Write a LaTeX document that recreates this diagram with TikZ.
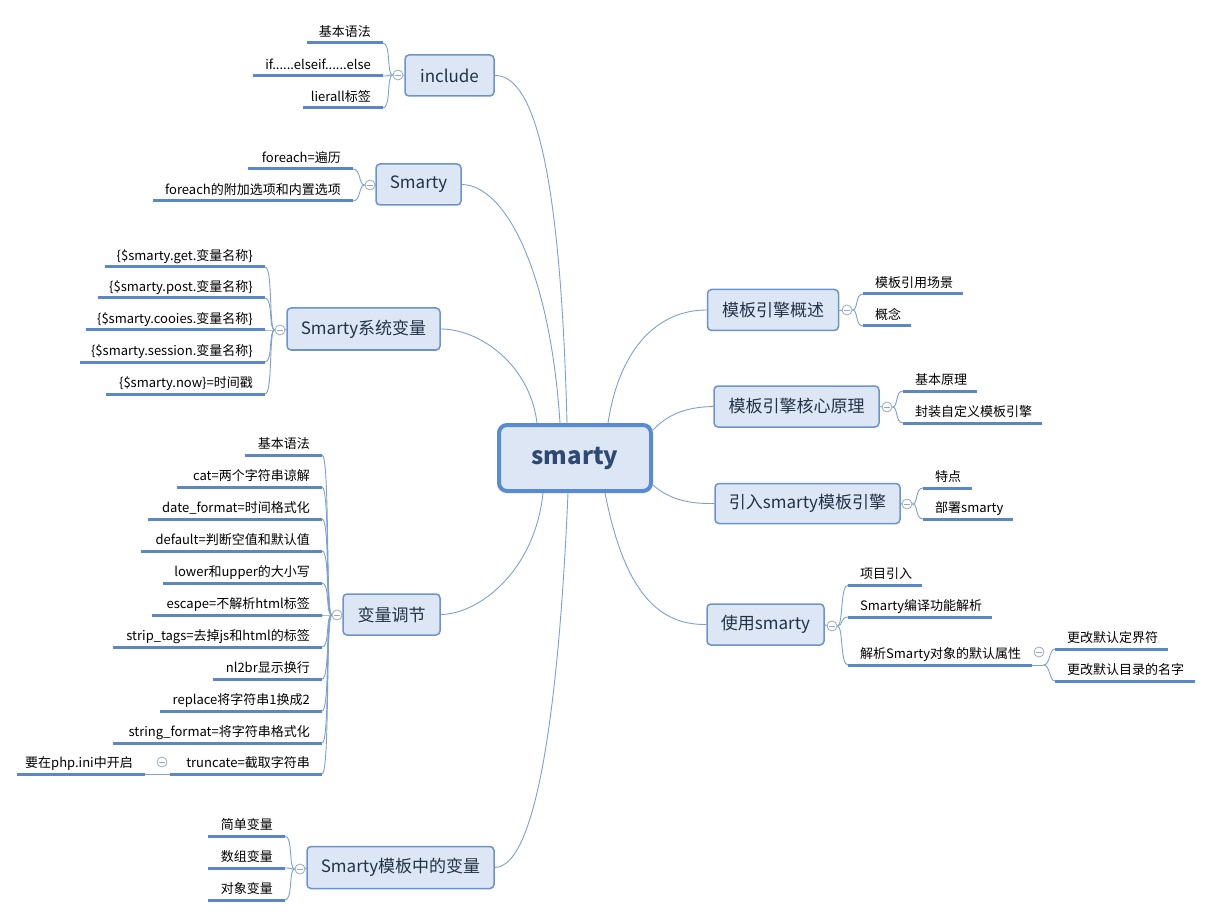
\documentclass[tikz,border=0pt]{standalone}
\usepackage{fontspec}
\setmainfont{Noto Sans CJK SC}
\usetikzlibrary{calc}
\definecolor{ubl}{HTML}{5B87C9}
\definecolor{cbl}{HTML}{7C9FD4}
\definecolor{bfill}{HTML}{DCE6F4}
\definecolor{bdraw}{HTML}{6B93CE}
\definecolor{cdraw}{HTML}{5A8AD2}
\definecolor{ctext}{HTML}{2E4A72}
\definecolor{mtext}{HTML}{233247}
\definecolor{circcol}{HTML}{96A8C6}
\tikzset{
  leaf/.style={inner xsep=12pt, inner ysep=3pt, text height=10pt, text depth=3.5pt,
    font=\fontsize{13}{15}\selectfont, text=black},
  uline/.style={draw=ubl, line width=3pt},
  conn/.style={draw=cbl, line width=0.9pt},
  mainbox/.style={draw=bdraw, line width=1.5pt, fill=bfill, rounded corners=4pt,
    inner sep=0pt, font=\fontsize{17}{20}\selectfont, text=mtext},
  centerbox/.style={draw=cdraw, line width=4pt, fill=bfill, rounded corners=8pt,
    inner sep=0pt, font=\fontsize{24}{28}\selectfont\bfseries, text=ctext,
    minimum width=152pt, minimum height=66pt},
  fold/.style={circle, draw=circcol, line width=0.8pt, fill=white, minimum size=10pt, inner sep=0pt,
    path picture={\draw[circcol, line width=0.8pt]
      ([xshift=-2.8pt]path picture bounding box.center) -- ([xshift=2.8pt]path picture bounding box.center);}}
}
\newcommand\lfL[5]{%
  \pgfmathsetmacro\lfw{#2-#4-24}%
  \node[leaf, anchor=south east] (#1) at (#2,#3) {\makebox[\lfw pt][r]{#5}};
  \draw[uline] (#1.south west) -- (#1.south east);}
\newcommand\lfR[5]{%
  \pgfmathsetmacro\lfw{#4-#2-24}%
  \node[leaf, anchor=south west] (#1) at (#2,#3) {\makebox[\lfw pt][l]{#5}};
  \draw[uline] (#1.south west) -- (#1.south east);}
\newcommand\brL[2]{\draw[conn] (#2.south east) .. controls +(8,0) and +(-6,0) .. (#1.west);}
\newcommand\brR[2]{\draw[conn] (#1.east) .. controls +(6,0) and +(-8,0) .. (#2.south west);}
\begin{document}
\begin{tikzpicture}[x=1pt, y=-1pt]
\useasboundingbox (0,0) rectangle (1213,917);

% center
\node[centerbox] (c) at (575,458) {smarty};

% main nodes
\node[mainbox, minimum width=89pt, minimum height=41pt] (inc) at (449.5,75.5) {include};
\node[mainbox, minimum width=85pt, minimum height=41pt] (sm) at (418.5,184.5) {Smarty};
\node[mainbox, minimum width=153pt, minimum height=42pt] (sv) at (363.5,329) {Smarty系统变量};
\node[mainbox, minimum width=97pt, minimum height=41pt] (bt) at (391.5,614.5) {变量调节};
\node[mainbox, minimum width=187pt, minimum height=42pt] (mv) at (400.5,867.5) {Smarty模板中的变量};
\node[mainbox, minimum width=131pt, minimum height=41pt] (gs) at (773,310) {模板引擎概述};
\node[mainbox, minimum width=165pt, minimum height=41pt] (hx) at (796.5,406.5) {模板引擎核心原理};
\node[mainbox, minimum width=185pt, minimum height=40pt] (yr) at (807.5,503.5) {引入smarty模板引擎};
\node[mainbox, minimum width=117pt, minimum height=41pt] (us) at (765.5,624.5) {使用smarty};

% center connectors
\draw[conn] ([xshift=-8pt]c.north) .. controls (560,150) and (530,75) .. (inc.east);
\draw[conn] ([xshift=-15pt]c.north) .. controls (550,270) and (505,185) .. (sm.east);
\draw[conn] ([xshift=-38pt]c.north) .. controls (530,365) and (480,329) .. (sv.east);
\draw[conn] ([xshift=-32pt]c.south) .. controls (535,570) and (480,614) .. (bt.east);
\draw[conn] ([xshift=-7pt]c.south) .. controls (560,680) and (540,867) .. (mv.east);
\draw[conn] ([xshift=33pt]c.north) .. controls (620,345) and (660,310) .. (gs.west);
\draw[conn] ([yshift=28pt]c.east) .. controls (670,412) and (690,407) .. (hx.west);
\draw[conn] ([yshift=-27pt]c.east) .. controls (670,500) and (690,504) .. (yr.west);
\draw[conn] ([xshift=30pt]c.south) .. controls (625,595) and (660,625) .. (us.west);

% fold circles
\node[fold] (ic) at (398,75) {};
\node[fold] (sc) at (370,185) {};
\node[fold] (vc) at (280,330) {};
\node[fold] (bc) at (337,615) {};
\node[fold] (mc) at (300,869) {};
\node[fold] (gc) at (847,310) {};
\node[fold] (hc) at (887,407) {};
\node[fold] (yc) at (907,504) {};
\node[fold] (uc) at (832,626) {};
\draw[conn] (ic.east) -- (inc.west);
\draw[conn] (sc.east) -- (sm.west);
\draw[conn] (vc.east) -- (sv.west);
\draw[conn] (bc.east) -- (bt.west);
\draw[conn] (mc.east) -- (mv.west);
\draw[conn] (gs.east) -- (gc.west);
\draw[conn] (hx.east) -- (hc.west);
\draw[conn] (yr.east) -- (yc.west);
\draw[conn] (us.east) -- (uc.west);

% include
\lfL{i1}{383}{43}{307}{基本语法}
\lfL{i2}{383}{76}{253}{if......elseif......else}
\lfL{i3}{383}{108}{303}{lierall标签}
\brL{ic}{i1}\brL{ic}{i2}\brL{ic}{i3}

% Smarty
\lfL{s1}{353}{169}{248}{foreach=遍历}
\lfL{s2}{353}{201}{153}{foreach的附加选项和内置选项}
\brL{sc}{s1}\brL{sc}{s2}

% system vars
\lfL{v1}{265}{267}{105}{\{\$smarty.get.变量名称\}}
\lfL{v2}{265}{298}{98}{\{\$smarty.post.变量名称\}}
\lfL{v3}{265}{330}{86}{\{\$smarty.cooies.变量名称\}}
\lfL{v4}{265}{362}{80}{\{\$smarty.session.变量名称\}}
\lfL{v5}{265}{394}{106}{\{\$smarty.now\}=时间戳}
\brL{vc}{v1}\brL{vc}{v2}\brL{vc}{v3}\brL{vc}{v4}\brL{vc}{v5}

% modifiers
\lfL{t1}{322}{455}{245}{基本语法}
\lfL{t2}{322}{487}{177}{cat=两个字符串谅解}
\lfL{t3}{322}{519}{148}{date\_format=时间格式化}
\lfL{t4}{322}{551}{141}{default=判断空值和默认值}
\lfL{t5}{322}{583}{163}{lower和upper的大小写}
\lfL{t6}{322}{615}{152}{escape=不解析html标签}
\lfL{t7}{322}{647}{113}{strip\_tags=去掉js和html的标签}
\lfL{t8}{322}{679}{213}{nl2br显示换行}
\lfL{t9}{322}{711}{160}{replace将字符串1换成2}
\lfL{t10}{322}{743}{113}{string\_format=将字符串格式化}
\lfL{t11}{322}{774}{170}{truncate=截取字符串}
\brL{bc}{t1}\brL{bc}{t2}\brL{bc}{t3}\brL{bc}{t4}\brL{bc}{t5}\brL{bc}{t6}
\brL{bc}{t7}\brL{bc}{t8}\brL{bc}{t9}\brL{bc}{t10}\brL{bc}{t11}
\lfL{php}{145}{774}{17}{要在php.ini中开启}
\draw[conn] (t11.south west) -- (php.south east);
\node[fold] (tc) at (162,762) {};

% template vars
\lfL{m1}{285}{836}{208}{简单变量}
\lfL{m2}{285}{868}{208}{数组变量}
\lfL{m3}{285}{900}{208}{对象变量}
\brL{mc}{m1}\brL{mc}{m2}\brL{mc}{m3}

% right side
\lfR{g1}{863}{294}{963}{模板引用场景}
\lfR{g2}{863}{326}{911}{概念}
\brR{gc}{g1}\brR{gc}{g2}

\lfR{h1}{903}{391}{977}{基本原理}
\lfR{h2}{903}{423}{1042}{封装自定义模板引擎}
\brR{hc}{h1}\brR{hc}{h2}

\lfR{y1}{923}{488}{972}{特点}
\lfR{y2}{923}{519}{1013}{部署smarty}
\brR{yc}{y1}\brR{yc}{y2}

\lfR{u1}{848}{585}{922}{项目引入}
\lfR{u2}{848}{617}{992}{Smarty编译功能解析}
\lfR{u3}{848}{665}{1032}{解析Smarty对象的默认属性}
\brR{uc}{u1}\brR{uc}{u2}\brR{uc}{u3}

\lfR{j1}{1055}{649}{1168}{更改默认定界符}
\lfR{j2}{1055}{681}{1195}{更改默认目录的名字}
\draw[conn] (u3.south east) -- ++(11,0) coordinate (jo);
\draw[conn] (jo) .. controls +(7,0) and +(-6,0) .. (j1.south west);
\draw[conn] (jo) .. controls +(7,0) and +(-6,0) .. (j2.south west);
\node[fold] (jc) at (1039,652) {};
\end{tikzpicture}
\end{document}
